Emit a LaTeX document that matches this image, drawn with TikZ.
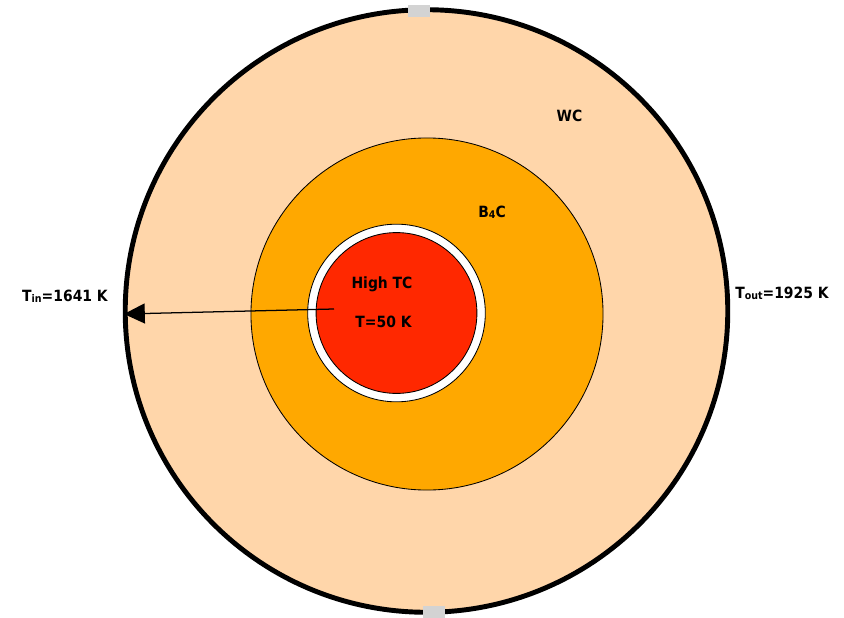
\documentclass[tikz,border=0pt]{standalone}
\usepackage{xcolor}
\usepackage{fontspec}
\setmainfont{DejaVu Sans}
\newfontfamily\lblfont[FakeStretch=0.9]{DejaVu Sans}
\usepackage{tikz}
\usetikzlibrary{arrows.meta,positioning,calc}

\definecolor{wcpeach}{RGB}{255,214,170}
\definecolor{bcorange}{RGB}{255,168,0}
\definecolor{tcred}{RGB}{255,40,0}
\definecolor{pluggray}{RGB}{211,211,211}

\newcommand{\lowsub}[1]{\raisebox{-0.6pt}{\fontsize{7.5}{8}\selectfont #1}}

\begin{document}
\begin{tikzpicture}[
  x=0.025cm, y=-0.025cm,
  lbl/.style={font=\lblfont\fontsize{11}{13}\selectfont\bfseries, inner sep=0pt},
  layer/.style={draw=black, line width=0.6pt},
  plug/.style={fill=pluggray, draw=none},
  msg/.style={-{Triangle[length=0.52cm,width=0.5cm]}, line width=0.9pt}
]
\useasboundingbox (0,0) rectangle (844,618);
\def\rWC{7.53cm} \def\rBC{4.4cm} \def\rGap{2.22cm} \def\rTC{2.01cm}

% layers
\coordinate (c0) at (426.5,311);
\coordinate (c1) at (427,314);
\coordinate (c2) at (396.5,313);
\fill[wcpeach] (c0) circle (\rWC);
\draw[layer, fill=bcorange] (c1) circle (\rBC);
\draw[layer, fill=white] (c2) circle (\rGap);
\draw[layer, fill=tcred] (c2) circle (\rTC);
\draw[line width=3.5pt] (c0) circle (\rWC);

% plugs at top and bottom
\fill[plug] (408,5) rectangle (430,17);
\fill[plug] (423,606) rectangle (445,618);

% labels
\node[lbl] (wc) at (569.5,115.5) {WC};
\node[lbl] (bc) at (492,212) {B\lowsub{4}C};
\node[lbl] (tc) at (382,284) {High TC};
\node[lbl] (t50) at (383.5,322) {T=50 K};
\node[lbl] (tin) at (65,296) {T\lowsub{in}=1641 K};
\node[lbl] (tout) at (782,293) {T\lowsub{out}=1925 K};

% radial arrow
\coordinate (start) at (334,309);
\coordinate (tip) at (124,314);
\draw[msg] (start) -- (tip);
\end{tikzpicture}
\end{document}
